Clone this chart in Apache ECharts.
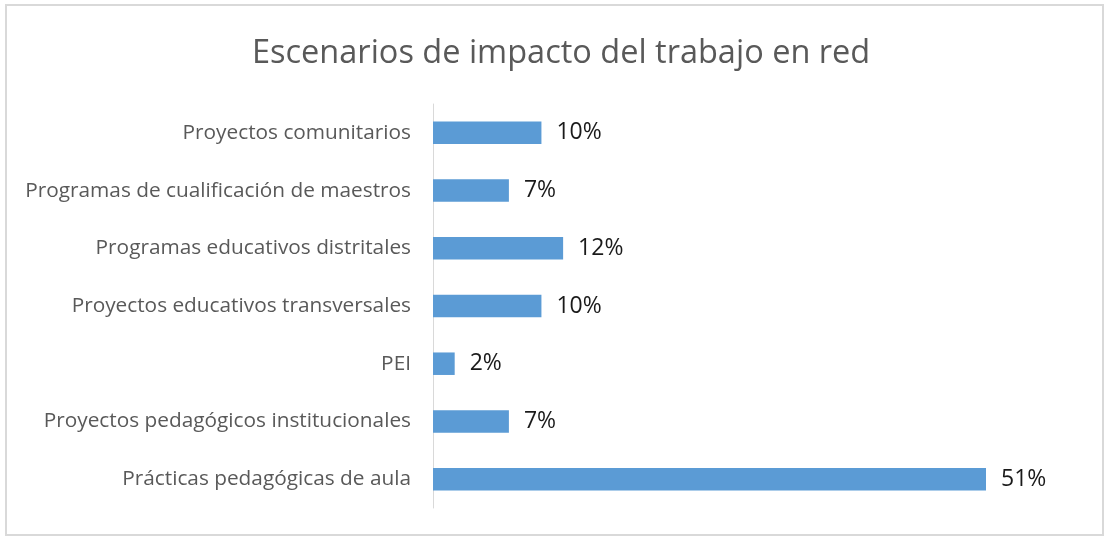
<!DOCTYPE html>
<html><head><meta charset="utf-8">
<script src="https://cdn.jsdelivr.net/npm/echarts@6/dist/echarts.min.js"></script>
<style>html,body{margin:0;padding:0;background:#fff}#c{width:1110px;height:539px}</style>
</head><body><div id="c"></div>
<script>
const title = 'Escenarios de impacto del trabajo en red';
const categories = [
  'Proyectos comunitarios',
  'Programas de cualificación de maestros',
  'Programas educativos distritales',
  'Proyectos educativos transversales',
  'PEI',
  'Proyectos pedagógicos institucionales',
  'Prácticas pedagógicas de aula'
];
const values = [10, 7, 12, 10, 2, 7, 51];

const chart = echarts.init(document.getElementById('c'), null, {renderer: 'canvas'});
chart.setOption({
  animation: false,
  backgroundColor: '#fff',
  textStyle: {fontFamily: 'Open Sans'},
  title: {
    text: title, left: 247, top: 32,
    textStyle: {fontFamily: 'Open Sans', fontSize: 32.5, fontWeight: 'normal', color: '#595959'}
  },
  graphic: [{
    type: 'rect', silent: true,
    shape: {x: 6, y: 5, width: 1097, height: 530},
    style: {fill: 'none', stroke: '#d9d9d9', lineWidth: 2}
  }],
  grid: {left: 433, top: 104, height: 404, right: 124, containLabel: false},
  xAxis: {
    type: 'value', min: 0, max: 51, show: false
  },
  yAxis: {
    type: 'category', data: categories, inverse: true,
    axisLine: {show: true, lineStyle: {color: '#d9d9d9', width: 1}},
    axisTick: {show: false},
    axisLabel: {color: '#595959', fontSize: 20.8, fontFamily: 'Open Sans', margin: 22}
  },
  series: [{
    type: 'bar', data: values, barWidth: '39%',
    itemStyle: {color: '#5b9bd5'},
    label: {
      show: true, position: 'right', distance: 15,
      formatter: p => p.value + '%',
      color: '#1a1a1a', fontSize: 23, fontFamily: 'Open Sans'
    }
  }]
});
</script></body></html>
